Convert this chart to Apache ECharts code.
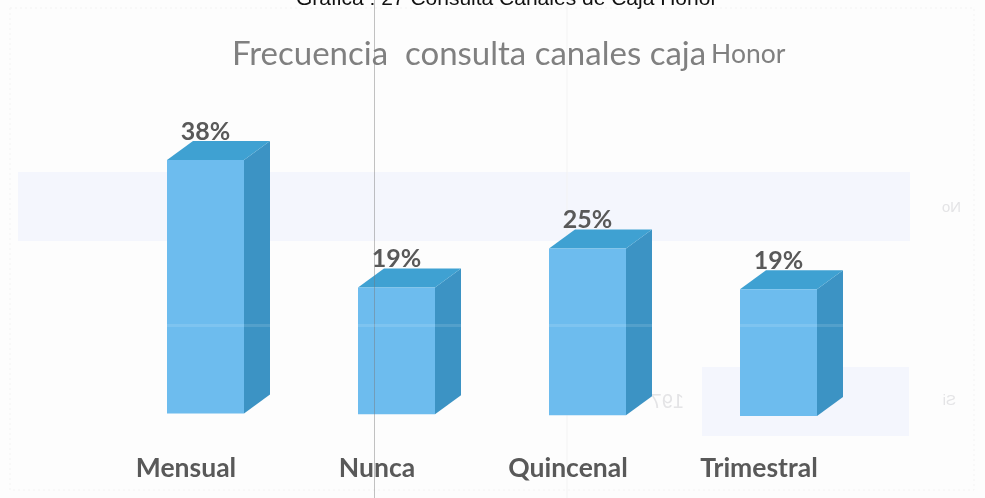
<!DOCTYPE html>
<html>
<head>
<meta charset="utf-8">
<title>Frecuencia consulta canales caja Honor</title>
<script src="https://cdn.jsdelivr.net/npm/echarts@6/dist/echarts.min.js"></script>
<style>
html, body { margin: 0; padding: 0; background: #fdfdfd; }
#chart { width: 985px; height: 498px; }
</style>
</head>
<body>
<div id="chart"></div>
<script>
var categories = ['Mensual', 'Nunca', 'Quincenal', 'Trimestral'];
var values = [38, 19, 25, 19];

var barWidth = 77;
var depthX = 26;
var depthY = 19;
var barShift = 19.5;   // the bars sit to the right of their axis labels
var scanTilt = 0.0044; // the scanned page is slightly rotated

function renderBar(params, api) {
	var base = api.coord([api.value(0), 0]);
	var top = api.coord([api.value(0), api.value(1)]);
	var left = base[0] + barShift - barWidth / 2;
	var right = left + barWidth;
	var drop = (left - 167) * scanTilt;
	var y0 = base[1] + drop;
	var y1 = top[1] + drop;
	return {
		type: 'group',
		children: [{
			type: 'polygon',
			shape: { points: [[right, y0], [right + depthX, y0 - depthY], [right + depthX, y1 - depthY], [right, y1]] },
			style: { fill: '#3c93c4' }
		}, {
			type: 'polygon',
			shape: { points: [[left, y1], [left + depthX, y1 - depthY], [right + depthX, y1 - depthY], [right, y1]] },
			style: { fill: '#3fa1d2' }
		}, {
			type: 'rect',
			shape: { x: left, y: y1, width: barWidth, height: y0 - y1 },
			style: { fill: '#6dbcee' }
		}, {
			type: 'text',
			style: {
				x: left + barWidth / 2,
				y: y1 - depthY + 3,
				text: api.value(1) + '%',
				fill: '#595959',
				font: 'bold 25px Lato',
				align: 'center',
				verticalAlign: 'bottom'
			}
		}]
	};
}

// text showing through from the back of the scanned sheet
function ghostText(text, x, y, size) {
	return {
		type: 'text', z: -9, silent: true, x: x, y: y, scaleX: -1,
		style: { text: text, fill: '#e4e4e6', font: size + 'px Liberation Sans', align: 'left', verticalAlign: 'middle' }
	};
}

var myChart = echarts.init(document.getElementById('chart'));
myChart.setOption({
	backgroundColor: '#fdfdfd',
	animation: false,
	title: [{
		text: 'Grafica : 27 Consulta Canales de Caja Honor',
		left: 291,
		top: -16,
		textStyle: { color: '#111', fontFamily: 'Liberation Sans', fontWeight: 'normal', fontSize: 21 }
	}, {
		text: '{a|Frecuencia  consulta canales caja} {b|Honor}',
		left: 227,
		top: 33,
		textStyle: {
			fontWeight: 'normal',
			rich: {
				a: { color: '#808080', fontFamily: 'Lato', fontWeight: 'normal', fontSize: 33 },
				b: { color: '#808080', fontFamily: 'Lato', fontWeight: 'normal', fontSize: 26.5 }
			}
		}
	}],
	grid: { left: 90.5, width: 764, top: 80, height: 333.5 },
	xAxis: {
		type: 'category',
		data: categories,
		axisLine: { show: false },
		axisTick: { show: false },
		axisLabel: {
			margin: 41,
			color: '#595959',
			fontFamily: 'Lato',
			fontWeight: 'bold',
			fontSize: 26.5
		}
	},
	yAxis: { type: 'value', min: 0, max: 50, show: false, splitLine: { show: false } },
	series: [{
		type: 'custom',
		renderItem: renderBar,
		encode: { x: 0, y: 1 },
		data: categories.map(function(c, i) { return [i, values[i]]; }),
		clip: false,
		z: 5
	}],
	// show-through and creases of the scanned page
	graphic: {
		elements: [
			{ type: 'rect', z: -10, silent: true, shape: { x: 18, y: 172, width: 892, height: 69 }, style: { fill: '#f4f6fd' } },
			{ type: 'rect', z: -10, silent: true, shape: { x: 702, y: 367, width: 207, height: 69 }, style: { fill: '#f4f6fd' } },
			{ type: 'rect', z: -10, silent: true, shape: { x: 10, y: 8, width: 964, height: 482 }, style: { fill: 'none', stroke: '#f3f3f3', lineDash: [2, 3] } },
			{ type: 'line', z: -10, silent: true, shape: { x1: 567, y1: 0, x2: 567, y2: 498 }, style: { stroke: '#f3f3f3', lineWidth: 1 } },
			ghostText('No', 961, 208, 15),
			ghostText('Si', 956, 401, 15),
			ghostText('197', 684, 402, 20),
			{ type: 'line', z: 100, silent: true, shape: { x1: 374.5, y1: 0, x2: 374.5, y2: 498 }, style: { stroke: 'rgba(120,120,120,0.45)', lineWidth: 1 } },
			{ type: 'rect', z: 100, silent: true, shape: { x: 150, y: 324, width: 720, height: 3 }, style: { fill: 'rgba(255,255,255,0.12)' } }
		]
	}
});
</script>
</body>
</html>
